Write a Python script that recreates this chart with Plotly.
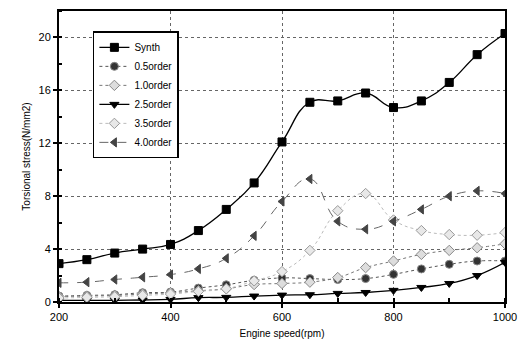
import plotly.graph_objects as go

speed = [200, 250, 300, 350, 400, 450, 500, 550, 600, 650, 700, 750, 800, 850, 900, 950, 1000]

synth = [2.9, 3.2, 3.7, 4.0, 4.35, 5.4, 7.0, 9.0, 12.1, 15.1, 15.2, 15.8, 14.7, 15.2, 16.6, 18.7, 20.3]
order_05 = [0.45, 0.5, 0.55, 0.7, 0.75, 1.05, 1.3, 1.64, 1.82, 1.77, 1.7, 1.77, 2.09, 2.5, 2.85, 3.1, 3.1]
order_10 = [0.4, 0.45, 0.5, 0.6, 0.7, 0.85, 1.0, 1.32, 1.4, 1.5, 1.85, 2.6, 3.1, 3.6, 3.9, 4.1, 4.4]
order_25 = [0.12, 0.12, 0.13, 0.15, 0.2, 0.33, 0.35, 0.45, 0.52, 0.55, 0.65, 0.72, 0.88, 1.1, 1.4, 2.0, 3.0]
order_35 = [0.3, 0.35, 0.4, 0.5, 0.6, 0.8, 1.0, 1.6, 2.3, 3.9, 6.9, 8.2, 6.2, 5.4, 5.1, 5.05, 5.25]
order_40 = [1.45, 1.5, 1.7, 1.87, 2.07, 2.5, 3.3, 5.0, 7.6, 9.3, 6.1, 5.5, 6.1, 7.0, 8.0, 8.4, 8.2]

names = ["Synth", "0.5order", "1.0order", "2.5order", "3.5order", "4.0order"]

fig = go.Figure()

def add(name, y, lcolor, dash, width, symbol, mcolor, mline, msize):
    fig.add_trace(go.Scatter(
        x=speed, y=y, name=name, mode="lines+markers",
        line=dict(color=lcolor, dash=dash, width=width, shape="spline", smoothing=1.3),
        marker=dict(symbol=symbol, color=mcolor, size=msize,
                    line=dict(color=mline, width=1)),
    ))

add(names[0], synth, "black", "solid", 1.3, "square", "black", "black", 8)
add(names[1], order_05, "#555555", "dot", 1.0, "circle", "#333333", "#888888", 8)
add(names[2], order_10, "#777777", "dot", 1.0, "diamond", "#dddddd", "#888888", 8)
add(names[3], order_25, "black", "solid", 1.3, "triangle-down", "black", "black", 8)
add(names[4], order_35, "#bbbbbb", "dot", 1.0, "diamond", "#e8e8e8", "#999999", 8)
add(names[5], order_40, "#666666", "dash", 1.0, "triangle-left", "#444444", "#444444", 8)

axis_font = dict(family="Arial", size=11, color="black")

fig.update_layout(
    width=526, height=349,
    margin=dict(l=59, r=19, t=9, b=47),
    paper_bgcolor="white", plot_bgcolor="white",
    font=dict(family="Arial", size=11, color="black"),
    showlegend=True,
    legend=dict(x=0.076, y=0.93, xanchor="left", yanchor="top",
                bgcolor="white", bordercolor="black", borderwidth=1.5,
                font=dict(family="Arial", size=10), tracegroupgap=0,
                itemwidth=30),
    xaxis=dict(range=[200, 1000], dtick=200, tick0=200,
               showline=True, linecolor="black", linewidth=2, mirror=True,
               ticks="outside", ticklen=4, tickcolor="black", tickwidth=1.5,
               showgrid=True, gridcolor="#666666", griddash="dot", gridwidth=1,
               minor=dict(dtick=100, ticks="inside", ticklen=4, tickcolor="black", showgrid=False),
               zeroline=False, tickfont=axis_font,
               title=dict(text="Engine speed(rpm)", font=dict(family="Arial", size=10), standoff=8)),
    yaxis=dict(range=[0, 22], dtick=4, tick0=0,
               showline=True, linecolor="black", linewidth=2, mirror=True,
               ticks="outside", ticklen=4, tickcolor="black", tickwidth=1.5,
               showgrid=True, gridcolor="#666666", griddash="dot", gridwidth=1,
               minor=dict(dtick=2, ticks="inside", ticklen=3, tickcolor="black", showgrid=False),
               zeroline=False, tickfont=axis_font,
               title=dict(text="Torsional stress(N/mm2)", font=dict(family="Arial", size=10), standoff=6)),
)

fig.write_html("out.html")
